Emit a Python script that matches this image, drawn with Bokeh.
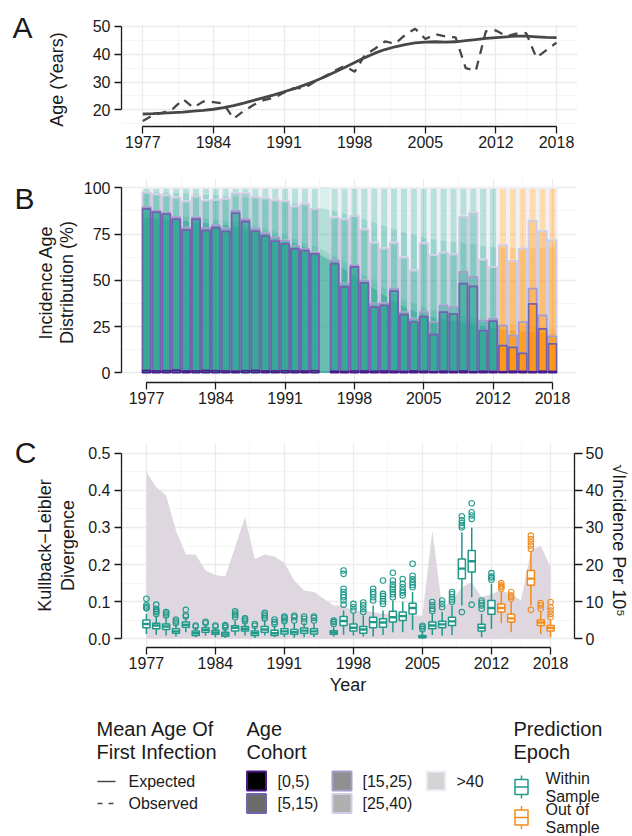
import math
from bokeh.plotting import figure
from bokeh.layouts import column, row
from bokeh.models import Range1d, FixedTicker, LinearAxis, ColumnDataSource, NumeralTickFormatter
from bokeh.core.properties import value
from bokeh.embed import file_html
from bokeh.resources import INLINE

FONT = "Liberation Sans"
INK = "#1a1a1a"
GRID = "#ebebeb"
GRID_MINOR = "#f2f2f2"

# ---------------- data ----------------
years = list(range(1977, 2019))
year_ticks = [1977, 1984, 1991, 1998, 2005, 2012, 2018]
year_minor = [1980.5, 1987.5, 1994.5, 2001.5, 2008.5, 2015]
first_out_of_sample = 2013

# Panel A: mean age of first infection
expected_age = [18.5, 18.6, 18.8, 19.0, 19.2, 19.5, 19.8, 20.2, 20.8, 21.5,
                22.4, 23.4, 24.4, 25.4, 26.5, 27.6, 28.9, 30.3, 31.8, 33.5,
                35.2, 37.0, 38.8, 40.4, 41.7, 42.7, 43.5, 44.1, 44.4, 44.5,
                44.4, 44.5, 44.9, 45.3, 45.7, 46.0, 46.3, 46.5, 46.5, 46.3,
                46.1, 46.0]
observed_age = [16.0, 18.0, 19.0, 20.4, 23.8, 20.8, 23.0, 22.8, 22.2, 16.8,
                19.6, 21.8, 23.5, 24.3, 26.2, 27.8, 27.8, 30.0, 32.0, 34.0,
                35.8, 33.7, 39.7, 42.0, 44.6, 43.8, 47.0, 49.2, 45.5, 47.2,
                46.4, 46.1, 35.0, 34.0, 48.3, 48.6, 46.5, 47.4, 47.6, 38.8,
                41.5, 44.2]

# Panel B: age cohorts (cumulative upper bounds, %)
cohorts = ["[0,5)", "[5,15)", "[15,25)", "[25,40)", ">40"]
exp_c5 = [1.4, 1.4, 1.3, 1.3, 1.3, 1.2, 1.2, 1.2, 1.1, 1.1,
          1.1, 1.0, 1.0, 1.0, 1.0, 0.9, 0.9, 0.9, 0.9, 0.8,
          0.8, 0.8, 0.8, 0.8, 0.7, 0.7, 0.7, 0.7, 0.7, 0.7,
          0.6, 0.6, 0.6, 0.6, 0.6, 0.6, 0.6, 0.6, 0.6, 0.6,
          0.6, 0.6]
exp_c15 = [84, 83.5, 83, 82.5, 82, 81.5, 81, 80.5, 80, 79,
           78, 77, 75.5, 74, 72, 70, 68, 65.5, 62.5, 59.5,
           56, 52.5, 49, 45.5, 42, 39, 36, 33.5, 31.5, 30,
           29, 28.2, 27.5, 26.5, 25.5, 24.5, 23.5, 23, 22.5, 22,
           21.5, 21]
exp_c25 = [86.5, 86, 85.5, 85, 84.5, 84, 83.5, 83, 82.5, 81.5,
           80.5, 79.5, 78, 76.5, 74.5, 72.5, 70.5, 68.5, 66, 63,
           60, 56.5, 53, 49.5, 46, 43, 40, 37.5, 35.5, 34,
           33, 32, 31, 30, 29, 28, 26.5, 26, 25.5, 25,
           24.5, 24]
exp_c40 = [98, 97.8, 97.5, 97.2, 97, 96.7, 96.3, 96, 95.6, 95.2,
           94.7, 94.2, 93.6, 93, 92.2, 91.4, 90.5, 89.5, 88.5, 87.3,
           86, 84.5, 83, 81.2, 79.5, 77.7, 76, 74.5, 73.2, 72.2,
           71.4, 70.8, 70.2, 69.5, 68.7, 68, 67.5, 67.5, 67.5, 67.6,
           67.8, 68]
obs_c5 = [1.2, 1.0, 1.1, 1.3, 0.9, 1.0, 1.2, 1.1, 1.0, 0.8,
          1.1, 1.2, 0.9, 1.0, 1.1, 1.0, 0.9, 1.1, None, 0.8,
          0.7, 1.0, 0.9, 0.8, 0.9, 0.8, 0.7, 0.9, 0.8, 0.6,
          0.8, 0.7, 0.9, 0.6, 0.8, 0.7, 0.6, 0.8, 0.7, 0.6,
          0.8, 0.7]
obs_c15 = [88.6, 86.8, 85.8, 83.0, 77.2, 83.0, 77.0, 78.4, 76.5, 86.3,
           81.8, 76.6, 74.0, 71.2, 69.7, 67.0, 66.0, 64.3, None, 59.0,
           46.4, 57.2, 48.6, 35.5, 36.4, 44.2, 31.5, 27.4, 30.4, 20.7,
           32.8, 31.9, 48.2, 46.7, 22.8, 27.9, 14.7, 13.8, 10.5, 37.3,
           23.7, 15.6]
obs_c25 = [89.5, 87.5, 86.5, 84.1, 78.4, 84.0, 78.3, 79.8, 78.0, 87.7,
           83.0, 78.0, 75.5, 73.0, 71.5, 68.5, 67.0, 65.0, None, 60.9,
           48.2, 58.2, 50.0, 37.3, 37.7, 45.5, 32.8, 29.2, 32.8, 27.4,
           36.4, 35.5, 54.5, 51.8, 28.3, 29.2, 25.5, 20.1, 27.4, 45.5,
           31.0, 19.7]
obs_c40 = [97.5, 96.5, 96.0, 94.7, 92.7, 95.3, 93.2, 93.5, 94.0, 97.1,
           97.1, 95.0, 94.4, 93.2, 92.8, 90.0, 91.4, 88.6, None, 84.0,
           83.0, 84.8, 77.5, 70.3, 67.2, 70.3, 62.3, 55.4, 70.0, 63.6,
           64.9, 64.1, 84.4, 86.6, 61.2, 57.2, 69.0, 60.5, 67.2, 82.2,
           76.6, 71.7]

# Panel C: sqrt incidence per 10^5 (right axis)
incidence_sqrt = [44.9, 40.9, 38.6, 29.2, 22.7, 22.7, 18.4, 17.2, 16.8, 24.7,
                  32.8, 21.5, 22.7, 22.2, 20.4, 15.7, 13.0, 12.6, 10.8, 9.0,
                  9.0, 7.4, 7.6, 7.2, 6.7, 6.7, 6.7, 6.3, 6.3, 29.2,
                  8.5, 10.3, 13.9, 15.3, 11.2, 12.1, 13.0, 12.1, 10.3, 23.8,
                  25.1, 19.3]

# Panel C: Kullback-Leibler divergence box summaries
kl_years = [1977, 1978, 1979, 1980, 1981, 1982, 1983, 1984, 1985, 1986,
            1987, 1988, 1989, 1990, 1991, 1992, 1993, 1994, 1996, 1997,
            1998, 1999, 2000, 2001, 2002, 2003, 2004, 2005, 2006, 2007,
            2008, 2009, 2010, 2011, 2012, 2013, 2014, 2016, 2017, 2018]
kl_lo = [.013, .011, .009, .006, .018, .004, .008, .004, .002, .009,
         .009, .002, .009, .004, .004, .003, .004, .005, .006, .011,
         .009, .006, .006, .010, .018, .018, .024, .000, .010, .008,
         .010, .090, .112, .004, .027, .042, .018, .090, .013, .004]
kl_q1 = [.030, .027, .025, .015, .031, .009, .018, .012, .007, .021,
         .021, .009, .018, .009, .013, .012, .015, .013, .012, .036,
         .021, .015, .030, .031, .045, .049, .067, .003, .027, .030,
         .036, .162, .180, .021, .066, .072, .045, .144, .036, .021]
kl_med = [.040, .036, .033, .020, .038, .015, .024, .017, .012, .030,
          .027, .015, .025, .015, .020, .018, .022, .020, .017, .048,
          .030, .025, .045, .044, .058, .061, .083, .006, .036, .039,
          .047, .189, .209, .030, .083, .083, .055, .162, .044, .029]
kl_q3 = [.051, .042, .040, .027, .045, .021, .030, .023, .018, .035,
         .033, .021, .033, .023, .027, .025, .029, .027, .022, .060,
         .040, .033, .058, .054, .074, .072, .096, .009, .045, .047,
         .058, .215, .238, .039, .103, .094, .066, .184, .051, .036]
kl_hi = [.067, .063, .058, .040, .058, .031, .040, .031, .027, .049,
         .045, .033, .049, .036, .042, .042, .042, .040, .031, .076,
         .067, .063, .090, .076, .103, .100, .126, .022, .067, .072,
         .090, .287, .300, .067, .148, .126, .099, .233, .072, .049]
kl_out = [[.082, .085, .090, .108], [.067, .072, .076, .081, .092], [.063, .068, .072],
          [.042, .047, .052], [.060, .064, .078], [.033, .036], [.042, .046],
          [.033, .036], [.030, .034, .037], [.058, .064, .068, .074],
          [.047, .052, .055], [.035, .040], [.055, .060, .065, .070],
          [.040, .045, .052], [.047, .052, .057, .060], [.049, .058, .062],
          [.045, .054, .060], [.049, .056, .060], [.040, .045, .049],
          [.092, .103, .112, .118, .126, .135, .175, .184],
          [.076, .085, .094], [.072, .081, .090, .098],
          [.103, .112, .120, .126, .135], [.094, .101, .108, .115, .121, .157],
          [.112, .120, .126, .133, .139, .146, .157, .178],
          [.117, .124, .130, .139, .148, .161],
          [.139, .145, .152, .160, .170, .202], [.026, .031, .035],
          [.075, .081, .090, .099], [.085, .094, .103],
          [.100, .106, .112, .120, .126],
          [.072, .300, .305, .312, .319, .330],
          [.092, .323, .332, .341, .365], [.081, .090, .097, .103],
          [.159, .165, .168, .177], [.135, .140, .144, .150],
          [.108, .113, .117, .126], [.078, .242, .251, .260, .269, .278],
          [.081, .090, .096], [.058, .067, .076, .085, .099]]

panel_letters = ["A", "B", "C"]
axis_titles_A = ["Age (Years)"]
axis_titles_B = ["Incidence Age", "Distribution (%)"]
axis_titles_C = ["Kullback\u2212Leibler", "Divergence"]
axis_title_C_right = "\u221aIncidence Per 10\u2075"
legend_age_title = ["Mean Age Of", "First Infection"]
legend_age_items = ["Expected", "Observed"]
legend_cohort_title = ["Age", "Cohort"]
legend_epoch_title = ["Prediction", "Epoch"]
legend_epoch_items = [["Within", "Sample"], ["Out of", "Sample"]]

# ---------------- styles ----------------
TEAL = "#1f9f8c"
ORANGE = "#ff8c00"
cohort_alpha = [1.0, 0.68, 0.45, 0.33, 0.17]
cohort_line = ["#4a1a8a", "#7262b0", "#a29dcb", "#cfcde5", "#f1f0f7"]
cohort_line_w = [1.6, 1.8, 1.8, 1.9, 2.1]
legend_gray = ["#000000", "#6b6b6b", "#8f8f8f", "#b0b0b0", "#d4d4d4"]
BOX_TEAL = "#21998a"
BOX_ORANGE = "#f28b1d"
AREA = "#dfd7e0"
LINE_GRAY = "#474747"


def make_fig(width, height, top, bottom, left, right, xr, yr):
    p = figure(width=width, height=height, x_range=Range1d(*xr), y_range=Range1d(*yr),
               min_border_left=left, min_border_right=right, min_border_top=top,
               min_border_bottom=bottom, output_backend="svg", toolbar_location=None)
    p.frame_align = False
    p.outline_line_color = None
    p.background_fill_color = "white"
    p.border_fill_color = "white"
    return p


def side_fig(x0, x1, y_top, height):
    """A blank strip whose data coordinates equal page pixels."""
    p = figure(width=x1 - x0, height=height, x_range=Range1d(x0, x1),
               y_range=Range1d(y_top + height, y_top), min_border=0,
               x_axis_location=None, y_axis_location=None,
               output_backend="svg", toolbar_location=None)
    p.frame_align = False
    p.outline_line_color = None
    p.grid.visible = False
    p.background_fill_color = "white"
    p.border_fill_color = "white"
    return p


def put_text(p, xs, ys, texts, size, angle=0.0, align="center"):
    p.text(x=xs, y=ys, text=texts, text_font=value(FONT), text_font_size=size,
           text_color=INK, text_baseline="middle", text_align=align, angle=angle)


def style_axis(ax):
    ax.axis_line_color = INK
    ax.axis_line_width = 1.3
    ax.major_tick_line_color = INK
    ax.major_tick_line_width = 1.3
    ax.major_tick_in = 0
    ax.major_tick_out = 7
    ax.minor_tick_line_color = None
    ax.major_label_text_font = FONT
    ax.major_label_text_font_size = "16px"
    ax.major_label_text_color = INK


def style_axes(p, yticks, yminor, ybounds, yfmt=None):
    xt = FixedTicker(ticks=year_ticks, minor_ticks=year_minor)
    yt = FixedTicker(ticks=yticks, minor_ticks=yminor)
    p.xaxis.ticker = xt
    p.xgrid.ticker = xt
    p.yaxis.ticker = yt
    p.ygrid.ticker = yt
    p.xaxis.bounds = (1977, 2018)
    p.yaxis.bounds = ybounds
    style_axis(p.xaxis[0])
    style_axis(p.yaxis[0])
    p.xaxis.major_label_standoff = 2
    p.yaxis.major_label_standoff = 4
    if yfmt is not None:
        p.yaxis.formatter = yfmt
    for g in (p.xgrid[0], p.ygrid[0]):
        g.grid_line_color = GRID
        g.grid_line_width = 1.3
        g.minor_grid_line_color = GRID_MINOR
        g.minor_grid_line_width = 0.8


SIDE_W = 78

# ---------------- Panel A ----------------
sA = side_fig(0, SIDE_W, 0, 165)
put_text(sA, [22], [27], [panel_letters[0]], "30px")
put_text(sA, [56], [79], axis_titles_A, "18px", math.pi / 2)

pA = make_fig(632 - SIDE_W, 165, 24, 39, 121 - SIDE_W, 55, (1974.89, 2020.08), (13.99, 50.72))
style_axes(pA, [20, 30, 40, 50], [15, 25, 35, 45], (20, 50))
pA.line(years, expected_age, line_color=LINE_GRAY, line_width=2.8)
pA.line(years, observed_age, line_color=LINE_GRAY, line_width=2.3, line_dash="9 7")

# ---------------- Panel B ----------------
xrBC = (1974.475, 2020.424)
sB = side_fig(0, SIDE_W, 165, 250)
put_text(sB, [24], [198], [panel_letters[1]], "30px")
put_text(sB, [45, 66], [282, 282], axis_titles_B, "18px", math.pi / 2)

pB = make_fig(632 - SIDE_W, 250, 13, 33, 121 - SIDE_W, 56, xrBC, (-5.24, 105.03))
style_axes(pB, [0, 25, 50, 75, 100], [12.5, 37.5, 62.5, 87.5], (0, 100))

exp_layers = [[0.0] * len(years), exp_c5, exp_c15, exp_c25, exp_c40, [100.0] * len(years)]
split = first_out_of_sample - 0.5
for epoch_color, sel in ((TEAL, lambda y: y < first_out_of_sample),
                         (ORANGE, lambda y: y >= first_out_of_sample)):
    idx = [i for i, y in enumerate(years) if sel(y)]
    for k in range(5):
        lo = [exp_layers[k][i] for i in idx]
        hi = [exp_layers[k + 1][i] for i in idx]
        xs = [years[i] for i in idx]
        if epoch_color == TEAL:
            j = idx[-1]
            xs = [xs[0] - 0.45] + xs + [split]
            lo = [lo[0]] + lo + [(exp_layers[k][j] + exp_layers[k][j + 1]) / 2]
            hi = [hi[0]] + hi + [(exp_layers[k + 1][j] + exp_layers[k + 1][j + 1]) / 2]
        else:
            j = idx[0]
            xs = [split] + xs + [xs[-1] + 0.45]
            lo = [(exp_layers[k][j - 1] + exp_layers[k][j]) / 2] + lo + [lo[-1]]
            hi = [(exp_layers[k + 1][j - 1] + exp_layers[k + 1][j]) / 2] + hi + [hi[-1]]
        pB.varea(x=xs, y1=lo, y2=hi, fill_color=epoch_color, fill_alpha=cohort_alpha[k])

obs_layers = [None, obs_c5, obs_c15, obs_c25, obs_c40, None]
valid = [i for i in range(len(years)) if obs_c15[i] is not None]
for k in range(4, -1, -1):
    src = ColumnDataSource(dict(
        x=[years[i] for i in valid],
        b=[0.0 if k == 0 else obs_layers[k][i] for i in valid],
        t=[100.0 if k == 4 else obs_layers[k + 1][i] for i in valid],
        c=[TEAL if years[i] < first_out_of_sample else ORANGE for i in valid]))
    pB.vbar(x="x", width=0.82, bottom="b", top="t", source=src, fill_color="c",
            fill_alpha=cohort_alpha[k], line_color=cohort_line[k], line_width=cohort_line_w[k])

# ---------------- Panel C ----------------
RIGHT_X = 606
sC = side_fig(0, SIDE_W, 415, 290)
put_text(sC, [25], [452], [panel_letters[2]], "30px")
put_text(sC, [44, 67], [545, 545], axis_titles_C, "18px", math.pi / 2)
sCR = side_fig(RIGHT_X, 632, 415, 290)
put_text(sCR, [618], [540], [axis_title_C_right], "18px", -math.pi / 2)

pC = make_fig(RIGHT_X - SIDE_W, 290, 28, 58, 121 - SIDE_W, RIGHT_X - 576, xrBC, (-0.0234, 0.5261))
style_axes(pC, [0, 0.1, 0.2, 0.3, 0.4, 0.5], [0.05, 0.15, 0.25, 0.35, 0.45], (0, 0.5),
           NumeralTickFormatter(format="0.0"))
pC.xaxis.axis_label = "Year"
pC.xaxis.axis_label_text_font = FONT
pC.xaxis.axis_label_text_font_size = "18px"
pC.xaxis.axis_label_text_font_style = "normal"
pC.xaxis.axis_label_text_color = INK
pC.xaxis.axis_label_standoff = 3
pC.extra_y_ranges = {"inc": Range1d(-2.34, 52.61)}
right_axis = LinearAxis(y_range_name="inc", ticker=FixedTicker(ticks=[0, 10, 20, 30, 40, 50]))
style_axis(right_axis)
right_axis.bounds = (0, 50)
right_axis.major_tick_out = 8
right_axis.major_label_standoff = 3
pC.add_layout(right_axis, "right")

pC.varea(x=years, y1=[0.0] * len(years), y2=incidence_sqrt, y_range_name="inc",
         fill_color=AREA, fill_alpha=1.0)

box_col = [BOX_TEAL if y < first_out_of_sample else BOX_ORANGE for y in kl_years]
bsrc = ColumnDataSource(dict(x=kl_years, lo=kl_lo, q1=kl_q1, med=kl_med, q3=kl_q3, hi=kl_hi,
                             c=box_col,
                             xl=[y - 0.36 for y in kl_years], xr=[y + 0.36 for y in kl_years]))
pC.segment(x0="x", y0="lo", x1="x", y1="q1", source=bsrc, line_color="c", line_width=1.5)
pC.segment(x0="x", y0="q3", x1="x", y1="hi", source=bsrc, line_color="c", line_width=1.5)
pC.vbar(x="x", width=0.72, bottom="q1", top="q3", source=bsrc, fill_color="white",
        line_color="c", line_width=1.5)
pC.segment(x0="xl", y0="med", x1="xr", y1="med", source=bsrc, line_color="c", line_width=2.4)
ox, oy, oc = [], [], []
for y, outs, c in zip(kl_years, kl_out, box_col):
    for v in outs:
        ox.append(y)
        oy.append(v)
        oc.append(c)
pC.scatter(x=ox, y=oy, marker="circle", size=5.5, fill_color=None, line_color=oc, line_width=1.1)

# ---------------- Legend ----------------
pL = side_fig(0, 632, 705, 131)

put_text(pL, [96, 96], [728, 751], legend_age_title, "20px", align="left")
put_text(pL, [246, 246], [728, 751], legend_cohort_title, "20px", align="left")
put_text(pL, [513, 513], [728, 751], legend_epoch_title, "20px", align="left")
put_text(pL, [128, 128], [781, 803], legend_age_items, "16px", align="left")
pL.line([97, 115], [781, 781], line_color=LINE_GRAY, line_width=1.3)
pL.line([97, 115], [803, 803], line_color=LINE_GRAY, line_width=1.3, line_dash="5 6")

sw_x = [256, 256, 341.5, 341.5, 435.5]
sw_y = [780.5, 803, 780.5, 803, 780.5]
pL.rect(x=sw_x, y=sw_y, width=19, height=19, fill_color=legend_gray,
        line_color=cohort_line, line_width=2)
put_text(pL, [277, 277, 362, 362, 456], [781, 803, 781, 803, 781], cohorts, "16px", align="left")

for (yc, col, labels) in ((786.5, BOX_TEAL, legend_epoch_items[0]),
                          (817.0, BOX_ORANGE, legend_epoch_items[1])):
    pL.segment(x0=[521], y0=[yc - 11.5], x1=[521], y1=[yc + 11.5], line_color=col, line_width=1.5)
    pL.rect(x=[521], y=[yc], width=13, height=15, fill_color="white", line_color=col, line_width=1.5)
    pL.segment(x0=[514.5], y0=[yc], x1=[527.5], y1=[yc], line_color=col, line_width=1.5)
    put_text(pL, [545, 545], [yc - 8.5, yc + 9.5], labels, "16px", align="left")

layout = column(row(sA, pA, spacing=0), row(sB, pB, spacing=0),
                row(sC, pC, sCR, spacing=0), pL, spacing=0)
open("out.html", "w").write(file_html(layout, INLINE))
